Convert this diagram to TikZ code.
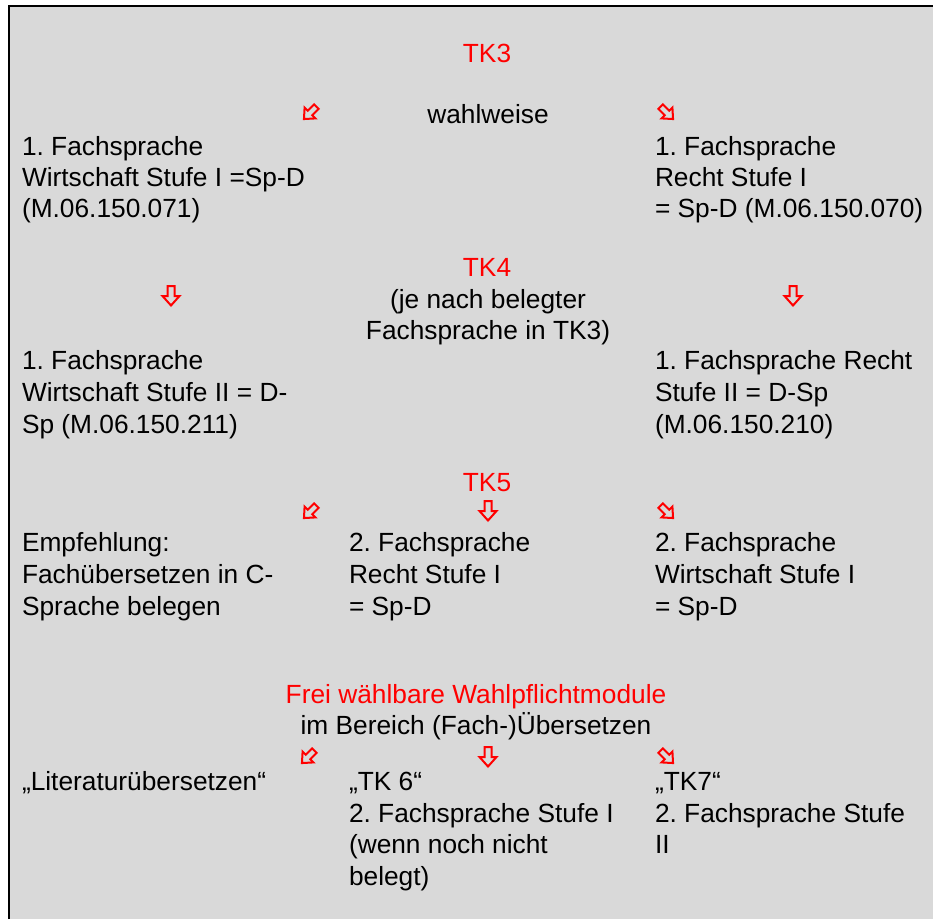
\documentclass[tikz,border=0pt]{standalone}
\usepackage{fontspec}
\setmainfont{Liberation Sans}
\frenchspacing
\definecolor{panelgray}{HTML}{D9D9D9}
\definecolor{tkred}{HTML}{FF0000}
\tikzset{
  txt/.style={inner sep=0pt, outer sep=0pt, font=\fontsize{26.3pt}{31.5pt}\selectfont\frenchspacing, text=black},
  lline/.style={txt, anchor=base west},
  cline/.style={txt, anchor=base},
  redtitle/.style={cline, text=tkred},
  pics/hollowarrow/.style={code={
    \draw[tkred, line width=2pt, miter limit=10]
      (-3.5,-10) -- (3.5,-10) -- (3.5,0) -- (8.5,0) -- (0,9.5) -- (-8.5,0) -- (-3.5,0) -- cycle;
  }},
}
\begin{document}
\begin{tikzpicture}[x=1pt,y=-1pt]
\useasboundingbox (0,0) rectangle (933,919);
\fill[white] (0,0) rectangle (933,919);
\fill[panelgray] (9,6) rectangle (933,919);
\draw[black, line width=2.6pt] (9,919) -- (9,6) -- (933,6);

% TK3
\node[redtitle] (tk3) at (487,62) {TK3};
\node[cline] (wahl) at (488,123) {wahlweise};
\pic[rotate=-45, scale=0.9] (a1l) at (310,113) {hollowarrow};
\pic[rotate=45, scale=0.9] (a1r) at (667,113) {hollowarrow};

\node[lline] (la1) at (22,155) {1. Fachsprache};
\node[lline] (la2) at (22,186) {Wirtschaft Stufe I =Sp-D};
\node[lline] (la3) at (22,217) {(M.06.150.071)};
\node[lline] (ra1) at (655,155) {1. Fachsprache};
\node[lline] (ra2) at (655,186) {Recht Stufe I};
\node[lline] (ra3) at (655,217) {= Sp-D (M.06.150.070)};

% TK4
\node[redtitle] (tk4) at (487,276) {TK4};
\node[cline] (je1) at (488,308) {(je nach belegter};
\node[cline] (je2) at (488,339) {Fachsprache in TK3)};
\pic (a2l) at (171,296) {hollowarrow};
\pic (a2r) at (793,296) {hollowarrow};

\node[lline] (lb1) at (22,369) {1. Fachsprache};
\node[lline] (lb2) at (22,401) {Wirtschaft Stufe II = D-};
\node[lline] (lb3) at (22,433) {Sp (M.06.150.211)};
\node[lline] (rb1) at (655,369) {1. Fachsprache Recht};
\node[lline] (rb2) at (655,401) {Stufe II = D-Sp};
\node[lline] (rb3) at (655,433) {(M.06.150.210)};

% TK5
\node[redtitle] (tk5) at (487,491) {TK5};
\pic[rotate=-45, scale=0.9] (a3l) at (310,512) {hollowarrow};
\pic (a3m) at (488,511) {hollowarrow};
\pic[rotate=45, scale=0.9] (a3r) at (667,512) {hollowarrow};

\node[lline] (lc1) at (22,551) {Empfehlung:};
\node[lline] (lc2) at (22,583) {Fachübersetzen in C-};
\node[lline] (lc3) at (22,615) {Sprache belegen};
\node[lline] (mc1) at (349,551) {2. Fachsprache};
\node[lline] (mc2) at (349,583) {Recht Stufe I};
\node[lline] (mc3) at (349,615) {= Sp-D};
\node[lline] (rc1) at (655,551) {2. Fachsprache};
\node[lline] (rc2) at (655,583) {Wirtschaft Stufe I};
\node[lline] (rc3) at (655,615) {= Sp-D};

% Frei waehlbare
\node[redtitle] (frei) at (476,703) {Frei wählbare Wahlpflichtmodule};
\node[cline] (bereich) at (476,734) {im Bereich (Fach-)Übersetzen};
\pic[rotate=-45, scale=0.9] (a4l) at (308,757) {hollowarrow};
\pic (a4m) at (488,757) {hollowarrow};
\pic[rotate=45, scale=0.9] (a4r) at (667,757) {hollowarrow};

\node[lline] (ld1) at (22,790) {„Literaturübersetzen“};
\node[lline] (md1) at (349,790) {„TK 6“};
\node[lline] (md2) at (349,822) {2. Fachsprache Stufe I};
\node[lline] (md3) at (349,853) {(wenn noch nicht};
\node[lline] (md4) at (349,885) {belegt)};
\node[lline] (rd1) at (655,790) {„TK7“};
\node[lline] (rd2) at (655,822) {2. Fachsprache Stufe};
\node[lline] (rd3) at (655,853) {II};
\end{tikzpicture}
\end{document}
